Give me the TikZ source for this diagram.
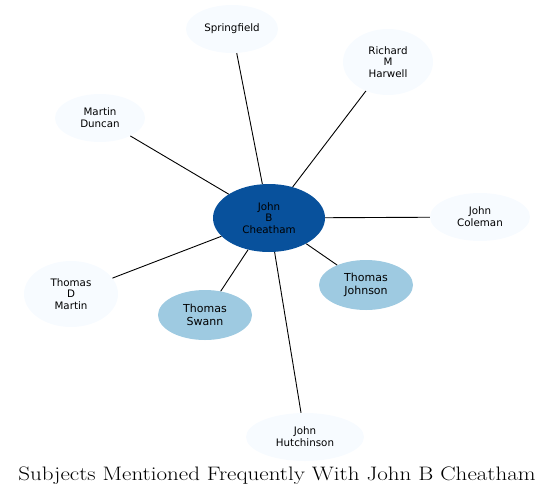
\documentclass[tikz,border=0pt]{standalone}
\usepackage{fontspec}
\newfontfamily\labelfont{DejaVu Sans}
\usetikzlibrary{shapes.geometric}
\definecolor{dark}{HTML}{08519C}
\definecolor{mid}{HTML}{9ECAE1}
\definecolor{pale}{HTML}{F7FBFF}
\begin{document}
\begin{tikzpicture}[x=1pt,y=-1pt,
  ent/.style={ellipse,draw=none,inner sep=0pt,align=center,
    font=\labelfont\fontsize{10.3}{11.7}\selectfont},
  paleent/.style={ent,fill=pale},
  mident/.style={ent,fill=mid,font=\labelfont\fontsize{11}{12.3}\selectfont},
  edge/.style={draw=black,line width=0.9pt}]
\useasboundingbox (0,0) rectangle (556,498);
\node[ent,fill=dark,minimum width=112pt,minimum height=68pt] (c) at (269,218) {John\\B\\Cheatham};
\node[paleent,minimum width=92pt,minimum height=48pt] (spr) at (232,29) {Springfield};
\node[paleent,minimum width=90pt,minimum height=66pt] (rmh) at (388,62) {Richard\\M\\Harwell};
\node[paleent,minimum width=90pt,minimum height=48pt] (md) at (100,118) {Martin\\Duncan};
\node[paleent,minimum width=100pt,minimum height=48pt] (jc) at (480,217) {John\\Coleman};
\node[mident,minimum width=94pt,minimum height=50pt] (tj) at (366,285) {Thomas\\Johnson};
\node[mident,minimum width=94pt,minimum height=50pt] (ts) at (205,315) {Thomas\\Swann};
\node[paleent,minimum width=94pt,minimum height=66pt] (tdm) at (71,294) {Thomas\\D\\Martin};
\node[paleent,minimum width=118pt,minimum height=48pt] (jh) at (305,437) {John\\Hutchinson};
\node[font=\fontsize{19.5}{24}\selectfont] (title) at (277,476) {\scalebox{1.18}[1]{Subjects Mentioned Frequently With John B Cheatham}};
\foreach \n in {spr,rmh,md,jc,tj,ts,tdm,jh} {\path[edge] (c) -- (\n);}
\end{tikzpicture}
\end{document}
